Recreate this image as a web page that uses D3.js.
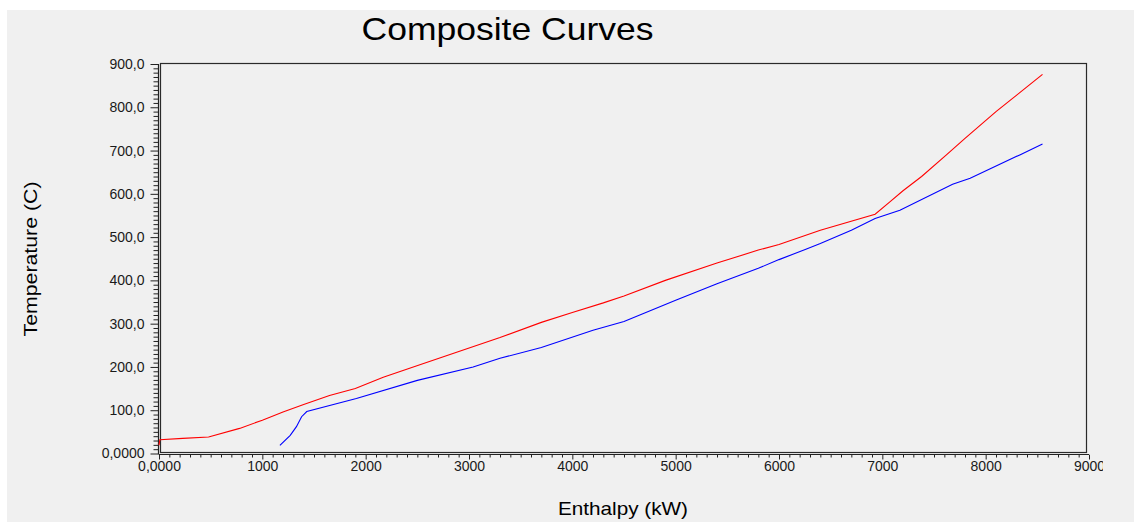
<!DOCTYPE html>
<html><head><meta charset="utf-8">
<script src="https://cdn.jsdelivr.net/npm/d3@7"></script>
<style>
html,body{margin:0;padding:0;background:#fff;}
svg{display:block;}
text{font-family:"Liberation Sans",Arial,sans-serif;}
</style></head>
<body>
<svg id="c" width="1134" height="522"></svg>
<script>
// Hot composite curve (red): enthalpy kW, temperature C
const hotEnthalpy = [0,8,230,480,780,1000,1200,1400,1650,1900,2170,2560,3300,3700,4000,4300,4500,4900,5400,5800,6000,6400,6930,7070,7200,7380,7620,7800,8100,8300,8550];
const hotTemp     = [19,32,35,38,58,77,96,113,134,150,176,208,268,303,326,348,364,400,440,470,483,516,553,581,607,640,690,728,790,828,876];
// Cold composite curve (blue)
const coldEnthalpy = [1170,1270,1330,1380,1430,1910,2500,3040,3300,3700,4200,4500,5000,5400,5800,6000,6260,6400,6700,6930,7170,7680,7850,8330,8550];
const coldTemp     = [19,42,62,85,97,127,169,200,220,245,285,305,354,392,428,448,472,485,516,543,562,622,636,690,715];
// Tick labels
const xTicks = [0,1000,2000,3000,4000,5000,6000,7000,8000,9000];
const xTickLabels = ["0,0000","1000","2000","3000","4000","5000","6000","7000","8000","9000"];
const yTicks = [0,100,200,300,400,500,600,700,800,900];
const yTickLabels = ["0,0000","100,0","200,0","300,0","400,0","500,0","600,0","700,0","800,0","900,0"];

const svg = d3.select("#c");
svg.append("rect").attr("x",7).attr("y",10).attr("width",1127).attr("height",512).attr("fill","#f0f0f0");

const x = d3.scaleLinear().domain([0,9000]).range([159,1089]);
const y = d3.scaleLinear().domain([0,900]).range([453.5,64]);

// frame
svg.append("rect").attr("x",160.5).attr("y",63.5).attr("width",926).attr("height",389)
  .attr("fill","none").attr("stroke","#2a2a2a").attr("stroke-width",1.2);

// clip for x labels
svg.append("clipPath").attr("id","xclip").append("rect").attr("x",0).attr("y",0).attr("width",1103).attr("height",522);

// x axis
const xMinor = d3.range(0,9001,100).filter(v=>v%1000!==0);
const gxm = svg.append("g").attr("transform","translate(0,454.5)")
  .call(d3.axisBottom(x).tickValues(xMinor).tickSize(3).tickFormat(""));
const gx = svg.append("g").attr("transform","translate(0,454.5)").attr("clip-path","url(#xclip)")
  .call(d3.axisBottom(x).tickValues(xTicks).tickSize(5).tickPadding(2)
    .tickFormat((d,i)=>xTickLabels[i]));
[gxm,gx].forEach(g=>{g.select(".domain").remove();g.selectAll("line").attr("stroke","#222");});
gx.selectAll("text").attr("font-size",14).attr("fill","#1a1a1a").attr("font-family","\"Liberation Sans\",Arial,sans-serif");
svg.append("line").attr("x1",159).attr("x2",1089).attr("y1",454.5).attr("y2",454.5).attr("stroke","#222").attr("stroke-width",1.2);

// y axis
const yMinor = d3.range(0,901,10).filter(v=>v%100!==0);
const gym = svg.append("g").attr("transform","translate(158.5,0)")
  .call(d3.axisLeft(y).tickValues(yMinor).tickSize(5).tickFormat(""));
const gy = svg.append("g").attr("transform","translate(158.5,0)")
  .call(d3.axisLeft(y).tickValues(yTicks).tickSize(8).tickPadding(6)
    .tickFormat((d,i)=>yTickLabels[i]));
[gym,gy].forEach(g=>{g.select(".domain").remove();g.selectAll("line").attr("stroke","#222");});
gy.selectAll("text").attr("font-size",14).attr("fill","#1a1a1a").attr("font-family","\"Liberation Sans\",Arial,sans-serif");
svg.append("line").attr("x1",158.5).attr("x2",158.5).attr("y1",64).attr("y2",454.5).attr("stroke","#222").attr("stroke-width",1.2);

// curves
const line = d3.line().x(d=>x(d[0])).y(d=>y(d[1]));
const hot = hotEnthalpy.map((v,i)=>[v,hotTemp[i]]);
const cold = coldEnthalpy.map((v,i)=>[v,coldTemp[i]]);
svg.append("path").datum(hot).attr("d",line).attr("fill","none").attr("stroke","#ff0000").attr("stroke-width",1.1);
svg.append("path").datum(cold).attr("d",line).attr("fill","none").attr("stroke","#0000ff").attr("stroke-width",1.1);

// titles
svg.append("text").attr("x",507.5).attr("y",40).attr("text-anchor","middle")
  .attr("font-size",32).attr("fill","#000").attr("textLength",292).attr("lengthAdjust","spacingAndGlyphs")
  .text("Composite Curves");
svg.append("text").attr("x",623).attr("y",515).attr("text-anchor","middle")
  .attr("font-size",19).attr("fill","#000").attr("textLength",130).attr("lengthAdjust","spacingAndGlyphs")
  .text("Enthalpy (kW)");
svg.append("text").attr("transform","translate(37,259) rotate(-90)").attr("text-anchor","middle")
  .attr("font-size",19).attr("fill","#000").attr("textLength",155).attr("lengthAdjust","spacingAndGlyphs")
  .text("Temperature (C)");
</script>
</body></html>
